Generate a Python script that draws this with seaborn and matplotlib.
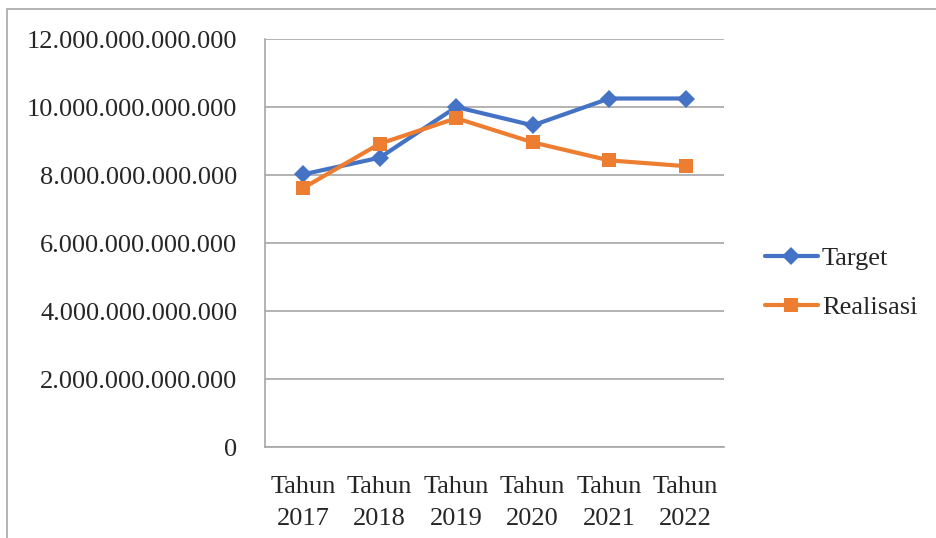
import matplotlib
matplotlib.use("Agg")
import matplotlib.pyplot as plt
from matplotlib.patches import Rectangle
import seaborn as sns
import pandas as pd

categories = ["Tahun\n2017", "Tahun\n2018", "Tahun\n2019", "Tahun\n2020", "Tahun\n2021", "Tahun\n2022"]
target = [8.02e12, 8.51e12, 10.0e12, 9.46e12, 10.25e12, 10.25e12]
realisasi = [7.62e12, 8.92e12, 9.67e12, 8.96e12, 8.43e12, 8.26e12]
y_ticks = [0, 2e12, 4e12, 6e12, 8e12, 10e12, 12e12]
y_labels = ["0", "2.000.000.000.000", "4.000.000.000.000", "6.000.000.000.000",
            "8.000.000.000.000", "10.000.000.000.000", "12.000.000.000.000"]
series_names = ["Target", "Realisasi"]

sns.set_style("white")
plt.rcParams["font.family"] = ["Liberation Serif", "DejaVu Serif"]

pos = list(range(len(categories)))
df = pd.DataFrame({
    "pos": pos * 2,
    "value": target + realisasi,
    "series": [series_names[0]] * len(pos) + [series_names[1]] * len(pos),
})

fig = plt.figure(figsize=(9.37, 5.38), dpi=100)
ax = fig.add_axes([265 / 937, 1 - 447 / 538, (724 - 265) / 937, (447 - 39) / 538])

palette = {"Target": "#4472C4", "Realisasi": "#ED7D31"}
sns.lineplot(data=df, x="pos", y="value", hue="series", style="series",
             markers={"Target": "D", "Realisasi": "s"}, dashes=False,
             palette=palette, linewidth=3, markersize=10, markeredgewidth=0,
             ax=ax, legend=True)
for line in ax.lines:
    if line.get_marker() == "D":
        line.set_markersize(9.5)

fs = 19
ax.set_xlim(-0.5, len(categories) - 0.5)
ax.set_ylim(0, 12e12)
ax.set_yticks(y_ticks)
ax.set_yticklabels(y_labels, fontsize=fs)
ax.set_xticks(pos)
ax.set_xticklabels(categories, fontsize=fs, linespacing=1.6)
ax.set_xticks([p - 0.5 for p in pos] + [pos[-1] + 0.5], minor=True)
ax.tick_params(axis="x", which="major", length=0, pad=21)
ax.tick_params(axis="x", which="minor", length=6, width=1, color="#a6a6a6", direction="out")
ax.tick_params(axis="y", which="major", length=6, width=1, color="#a6a6a6", direction="out", pad=14)
ax.set_xlabel("")
ax.set_ylabel("")
ax.grid(axis="y", color="#a6a6a6", linewidth=1.2)
ax.set_axisbelow(True)
for s in ["top", "right"]:
    ax.spines[s].set_visible(False)
for s in ["left", "bottom"]:
    ax.spines[s].set_color("#a6a6a6")
    ax.spines[s].set_linewidth(1.2)

handles, labels = ax.get_legend_handles_labels()
ax.legend(handles, labels, loc="center left", bbox_to_anchor=(765 / 937, 1 - 283 / 538),
          bbox_transform=fig.transFigure, frameon=False, fontsize=fs,
          handlelength=2.0, handletextpad=0.15, labelspacing=0.95,
          borderpad=0, borderaxespad=0)

fig.patches.append(Rectangle((7 / 937, -0.1), 1.2, 1.1 - 9 / 538,
                             transform=fig.transFigure, fill=False,
                             edgecolor="#a6a6a6", linewidth=1.2))

fig.savefig("out.png", dpi=100)
